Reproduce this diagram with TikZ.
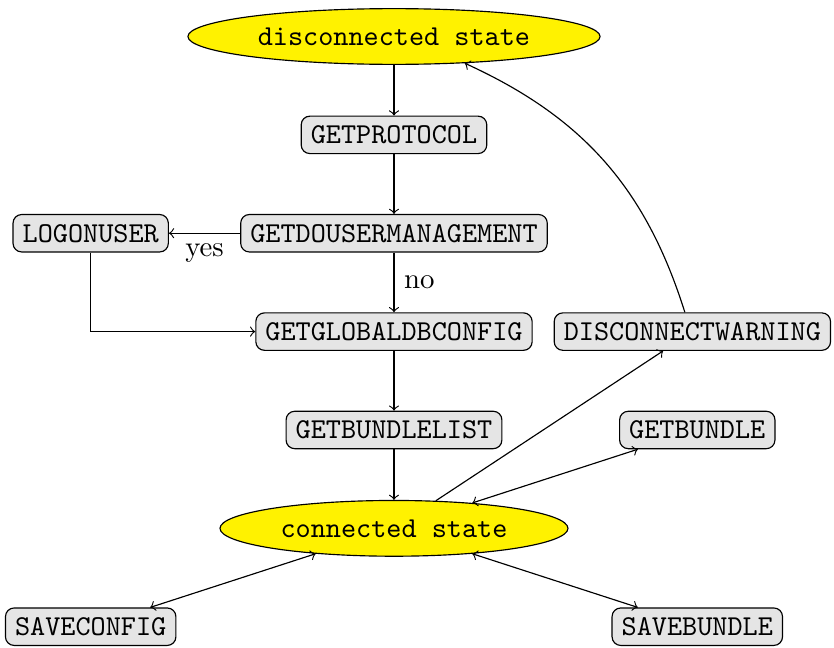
\documentclass[tikz,border=0pt]{standalone}
\usetikzlibrary{positioning,calc,shapes,shapes.geometric}
\tikzset{
  statenode/.style = {draw, ellipse, fill=yellow, font=\ttfamily,
                      minimum height=0.68cm, inner sep=3.33pt},
  cmd/.style       = {draw, rounded corners=3pt, fill=black!10,
                      font=\ttfamily, inner sep=3.33pt},
  edge/.style      = {->},
  both/.style      = {<->}
}
\begin{document}
\begin{tikzpicture}[node distance=1.2cm and 3.7cm, on grid]
  \node[statenode]                        (disc)       {disconnected state};
  \node[cmd, below=of disc]               (getproto)   {GETPROTOCOL};
  \node[cmd, below=of getproto]           (getuser)    {GETDOUSERMANAGEMENT};
  \node[cmd, left=of getuser]             (logon)      {LOGONUSER};
  \node[cmd, below=of getuser]            (getglobal)  {GETGLOBALDBCONFIG};
  \node[cmd, right=3.64cm of getglobal]   (discwarn)   {DISCONNECTWARNING};
  \node[cmd, below=of getglobal]          (getlist)    {GETBUNDLELIST};
  \node[cmd, right=of getlist]            (getbundle)  {GETBUNDLE};
  \node[statenode, below=of getlist]      (conn)       {connected state};
  \node[cmd, below left=of conn]          (saveconfig) {SAVECONFIG};
  \node[cmd, below right=of conn]         (savebundle) {SAVEBUNDLE};

  \draw[edge] (disc) -- (getproto);
  \draw[edge] (getproto) -- (getuser);
  \draw[edge] (getuser) -- node[below] {yes} (logon);
  \draw[edge] (getuser) -- node[right] {no} (getglobal);
  \draw[edge] (logon) |- (getglobal);
  \draw[edge] (getglobal) -- (getlist);
  \draw[edge] (getlist) -- (conn);
  \draw[edge] (conn) -- (discwarn);
  \draw[edge] (discwarn) to[bend right=24] (disc);
  \draw[both] (conn) -- (getbundle);
  \draw[both] (conn) -- (saveconfig);
  \draw[both] (conn) -- (savebundle);

  % margins as in the original
  \useasboundingbox ($(saveconfig.south west)+(-1.7pt,-0.4pt)$)
    rectangle ($(discwarn.east |- disc.north)+(1pt,2.8pt)$);
\end{tikzpicture}
\end{document}
